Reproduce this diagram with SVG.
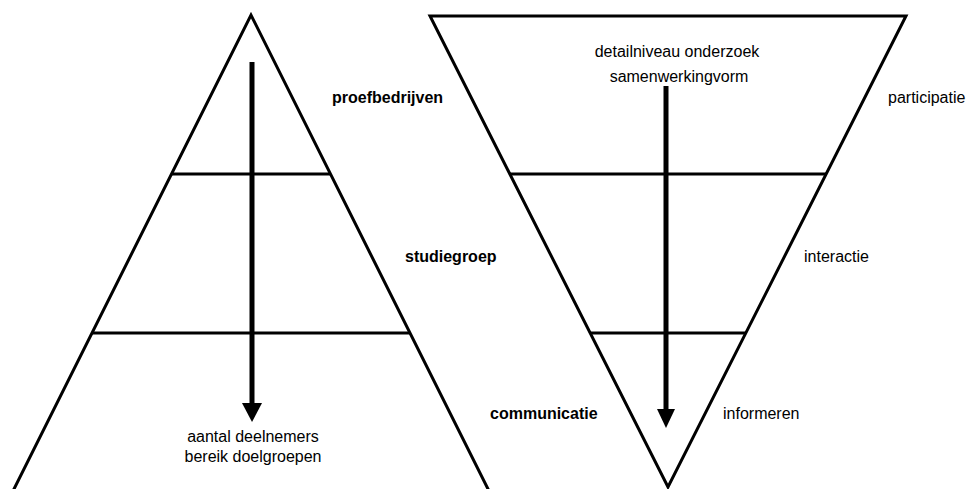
<svg xmlns="http://www.w3.org/2000/svg" width="969" height="489" viewBox="0 0 969 489">
<style>
.ln{fill:none;stroke:#000;stroke-width:3;stroke-linejoin:miter}
.sh{stroke:#000;stroke-width:5}
.t{font-family:"Liberation Sans",Arial,sans-serif;font-size:16px;fill:#000}
.b{font-weight:bold}
</style>
<rect width="969" height="489" fill="#fff"/>
<g id="pyramid">
<polyline class="ln" points="12,493 251,15 490,493"/>
<line class="ln" x1="171" y1="174" x2="331" y2="174"/>
<line class="ln" x1="92" y1="333" x2="410" y2="333"/>
</g>
<g id="funnel">
<polygon class="ln" points="430,16 906,16 668,487"/>
<line class="ln" x1="510" y1="174" x2="826" y2="174"/>
<line class="ln" x1="590" y1="333" x2="746" y2="333"/>
</g>
<g id="connectors">
<line class="sh" x1="252" y1="62" x2="252" y2="405"/>
<polygon points="242,403 262,403 252,422" fill="#000"/>
<line class="sh" x1="666" y1="86" x2="666" y2="411"/>
<polygon points="657,409 675,409 666,428" fill="#000"/>
</g>
<g id="labels-left">
<text class="t" x="253" y="442" text-anchor="middle">aantal deelnemers</text>
<text class="t" x="253" y="462" text-anchor="middle">bereik doelgroepen</text>
</g>
<g id="labels-right-top">
<text class="t" x="677" y="57" text-anchor="middle">detailniveau onderzoek</text>
<text class="t" x="679" y="82" text-anchor="middle">samenwerkingvorm</text>
</g>
<g id="level-proefbedrijven">
<text class="t b" x="332" y="103">proefbedrijven</text>
<text class="t" x="888" y="103">participatie</text>
</g>
<g id="level-studiegroep">
<text class="t b" x="405" y="262">studiegroep</text>
<text class="t" x="804" y="262">interactie</text>
</g>
<g id="level-communicatie">
<text class="t b" x="490" y="419">communicatie</text>
<text class="t" x="723" y="419">informeren</text>
</g>
</svg>
